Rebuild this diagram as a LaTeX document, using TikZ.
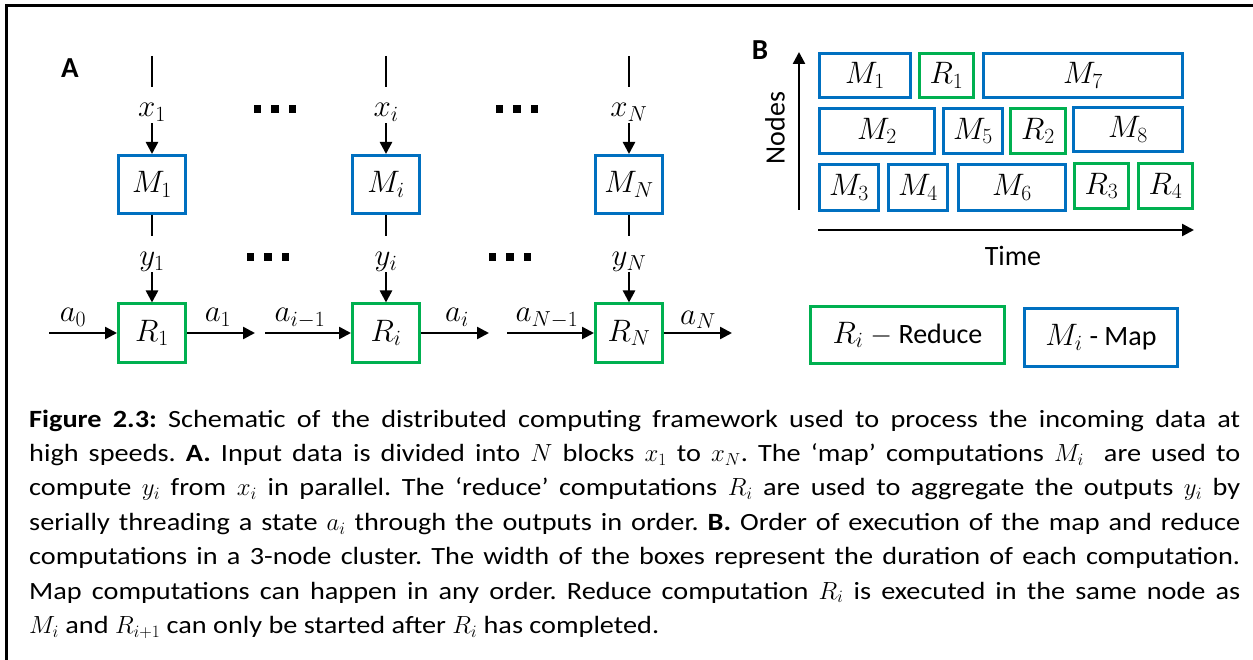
\RequirePackage{fix-cm}
\documentclass[tikz,border=0pt]{standalone}
\usepackage[no-math]{fontspec}
\setmainfont{Carlito}
\newfontfamily\capfont{Carlito}[FakeStretch=1.14]
\usetikzlibrary{arrows.meta}
\definecolor{mapblue}{HTML}{0070C0}
\definecolor{redgreen}{HTML}{00B050}

\begin{document}
\begin{tikzpicture}[x=1pt,y=-1pt,
  mathfont/.style={font=\fontsize{31}{33}\selectfont},
  mbox/.style={draw=mapblue, line width=3pt, inner sep=0pt, mathfont},
  rbox/.style={draw=redgreen, line width=3pt, inner sep=0pt, mathfont},
  colbox/.style={minimum width=67pt, minimum height=58pt},
  lab/.style={inner sep=2pt, text height=28pt, text depth=4pt, mathfont},
  alab/.style={inner sep=0pt, anchor=base, mathfont},
  conn/.style={line width=2.5pt},
  arr/.style={line width=2.5pt, -{Triangle[length=12pt,width=12pt]}},
  txt/.style={font=\fontsize{28}{30}\selectfont},
  panel/.style={font=\bfseries\fontsize{29}{31}\selectfont, inner sep=0pt}
]
\useasboundingbox (0,0) rectangle (1253,660);
\fill[white] (0,0) rectangle (1253,660);

% outer frame
\draw[line width=3pt] (6,660) -- (6,6) -- (1253,6);

% ---------------- Panel A ----------------
\node[panel] (A) at (70,68) {A};

\foreach \c/\s/\x in {1/1/152, i/i/386, N/N/629} {
  \coordinate (t\c) at (\x,56);
  \node[lab] (x\c) at (\x,105) {$x_{\s}$};
  \node[mbox, colbox] (M\c) at (\x,184.5) {$M_{\s}$};
  \node[lab] (y\c) at (\x,254) {$y_{\s}$};
  \node[rbox, colbox] (R\c) at (\x,333) {$R_{\s}$};
  \draw[conn] (t\c) -- (x\c);
  \draw[arr] (x\c) -- (M\c);
  \draw[conn] (M\c) -- (y\c);
  \draw[arr] (y\c) -- (R\c);
}

% ellipsis marks between the columns
\foreach \cx/\cy in {275/109, 517/109, 268/257, 510/257} {
  \foreach \d in {-17.5,0,17.5} {
    \fill ({\cx+\d-3.75},{\cy-3.75}) rectangle ({\cx+\d+3.75},{\cy+3.75});
  }
}

% state thread a_0 ... a_N
\coordinate (a0s) at (49,333);
\coordinate (a1e) at (255,333);
\coordinate (aim1s) at (265,333);
\coordinate (aie) at (489,333);
\coordinate (aNm1s) at (507,333);
\coordinate (aNe) at (732,333);
\draw[arr] (a0s) -- (R1);
\draw[arr] (R1) -- (a1e);
\draw[arr] (aim1s) -- (Ri);
\draw[arr] (Ri) -- (aie);
\draw[arr] (aNm1s) -- (RN);
\draw[arr] (RN) -- (aNe);
\node[alab] (la0) at (73,322) {$a_0$};
\node[alab] (la1) at (218,322) {$a_1$};
\node[alab] (laim1) at (300,322) {$a_{i-1}$};
\node[alab] (lai) at (457,322) {$a_i$};
\node[alab] (laNm1) at (547,322) {$a_{N-1}$};
\node[alab] (laN) at (698,324) {$a_N$};

% ---------------- Panel B ----------------
\node[panel] (B) at (760,50) {B};
\coordinate (nb) at (799,210);
\coordinate (nt) at (799,52);
\draw[arr] (nb) -- (nt);
\node[txt, rotate=90] (nodeslab) at (775,128) {Nodes};
\coordinate (tl) at (818,230);
\coordinate (tr) at (1194,230);
\draw[arr] (tl) -- (tr);
\node[txt] (timelab) at (1013,256) {Time};

% schedule, one row per cluster node
\node[mbox, minimum width=91pt, minimum height=44pt] (bM1) at (865,75.5) {$M_1$};
\node[rbox, minimum width=54pt, minimum height=44pt] (bR1) at (946.5,75.5) {$R_1$};
\node[mbox, minimum width=199pt, minimum height=44pt] (bM7) at (1083,75.5) {$M_7$};

\node[mbox, minimum width=115pt, minimum height=45pt] (bM2) at (877,131) {$M_2$};
\node[mbox, minimum width=59pt, minimum height=45pt] (bM5) at (973,131) {$M_5$};
\node[rbox, minimum width=55pt, minimum height=45pt] (bR2) at (1038,131) {$R_2$};
\node[mbox, minimum width=109pt, minimum height=44pt] (bM8) at (1128,129.5) {$M_8$};

\node[mbox, minimum width=59pt, minimum height=46pt] (bM3) at (849,187.5) {$M_3$};
\node[mbox, minimum width=59pt, minimum height=46pt] (bM4) at (918,187.5) {$M_4$};
\node[mbox, minimum width=107pt, minimum height=46pt] (bM6) at (1012,187.5) {$M_6$};
\node[rbox, minimum width=54pt, minimum height=45pt] (bR3) at (1101.5,186) {$R_3$};
\node[rbox, minimum width=54pt, minimum height=45pt] (bR4) at (1165.5,186) {$R_4$};

% legend
\node[rbox, minimum width=194pt, minimum height=57pt] (legR) at (907.5,335) {$R_i$ {\fontsize{28}{30}\selectfont $-$ Reduce}};
\node[mbox, minimum width=153pt, minimum height=58pt] (legM) at (1101,337.5) {$M_i$ {\fontsize{28}{30}\selectfont - Map}};

% ---------------- Caption ----------------
\node[anchor=north west, text width=1211pt, align=justify, inner sep=0pt,
      font=\capfont\fontsize{24.8}{34.4}\selectfont\frenchspacing] (cap) at (29,409.5) {%
\textbf{Figure 2.3:} Schematic of the distributed computing framework used to process the incoming data at\linebreak
high speeds. \textbf{A.} Input data is divided into $N$ blocks $x_1$ to $x_N$. The ‘map’ computations $M_i$\ \ are used to\linebreak
compute $y_i$ from $x_i$ in parallel. The ‘reduce’ computations $R_i$ are used to aggregate the outputs $y_i$ by\linebreak
serially threading a state $a_i$ through the outputs in order. \textbf{B.} Order of execution of the map and reduce\linebreak
computations in a 3-node cluster. The width of the boxes represent the duration of each computation.\linebreak
Map computations can happen in any order. Reduce computation $R_i$ is executed in the same node as\linebreak
$M_i$ and $R_{i+1}$ can only be started after $R_i$ has completed.};
\end{tikzpicture}
\end{document}
